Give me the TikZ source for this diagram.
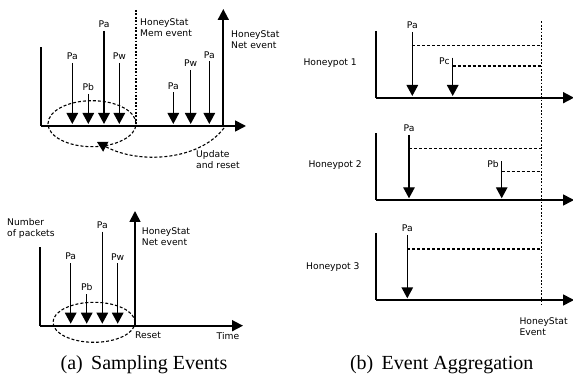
\documentclass[tikz,border=0pt]{standalone}
\usepackage{fontspec}
\setmainfont{Liberation Serif}
\newfontfamily\lblfont{DejaVu Sans}
\usetikzlibrary{arrows.meta,positioning,calc,shapes.geometric}

\begin{document}
\begin{tikzpicture}[x=1pt,y=-1pt,
	lbl/.style={font=\lblfont\fontsize{9.2}{11}\selectfont,inner sep=0pt,align=left},
	axis/.style={line width=1.7pt,-{Triangle[length=11pt,width=11pt]}},
	yaxis/.style={line width=1.7pt},
	pkt/.style={line width=1.4pt,-{Triangle[length=11pt,width=11.5pt]}},
	hold/.style={line width=1.1pt,dash pattern=on 3pt off 2pt},
	evline/.style={line width=1.3pt,dash pattern=on 1.8pt off 1.6pt},
	captext/.style={font=\fontsize{20}{24}\selectfont,inner sep=0pt,anchor=base}]
	\useasboundingbox (0,0) rectangle (573,374);
	
	% (a) top: sampling with memory event
	\coordinate (ta0) at (41,126);
	\coordinate (ta1) at (41,47.5);
	\coordinate (ta2) at (246,126);
	\draw[yaxis] (ta1) -- (ta0);
	\draw[axis] (ta0) -- (ta2);
	\draw[pkt] (72.3,63) coordinate (p1) -- (72.3,124);
	\draw[pkt] (88.3,94) coordinate (p2) -- (88.3,124);
	\draw[pkt] (104,31) coordinate (p3) -- (104,124);
	\draw[pkt] (119.3,63) coordinate (p4) -- (119.3,124);
	\draw[pkt] (173.3,92.5) coordinate (p5) -- (173.3,124);
	\draw[pkt] (190.7,70) coordinate (p6) -- (190.7,124);
	\draw[pkt] (209.3,61.5) coordinate (p7) -- (209.3,124);
	\node[lbl,above=3pt of p1] {Pa};
	\node[lbl,above=3pt of p2] {Pb};
	\node[lbl,above=3pt of p3] {Pa};
	\node[lbl,above=3pt of p4] {Pw};
	\node[lbl,above=3pt of p5] {Pa};
	\node[lbl,above=3pt of p6] {Pw};
	\node[lbl,above=3pt of p7] {Pa};
	\coordinate (mem) at (136,10);
	\draw[evline] (mem) -- (136,126);
	\node[lbl,anchor=north west] (memtxt) at (140,18.5) {HoneyStat\\Mem event};
	\coordinate (net) at (223.3,126);
	\draw[axis] (net) -- (223.3,9);
	\node[lbl,anchor=north west] (nettxt) at (231,30.5) {HoneyStat\\Net event};
	\node[hold,draw,ellipse,minimum width=88pt,minimum height=46pt] (win) at (92,123.7) {};
	\draw[hold,-{Triangle[length=10pt,width=11pt]}] (224,128)
		.. controls (200,160) and (140,165) .. (97,142);
	\node[lbl,anchor=north west] (upd) at (196,150.5) {Update\\and reset};
	
	% (a) bottom: sampling with net event
	\coordinate (ba0) at (40,325.7);
	\coordinate (ba1) at (40,247.5);
	\coordinate (ba2) at (243,325.7);
	\draw[yaxis] (ba1) -- (ba0);
	\draw[axis] (ba0) -- (ba2);
	\node[lbl,anchor=north west] (npk) at (7,218.5) {Number\\of packets};
	\draw[pkt] (70.7,263.3) coordinate (q1) -- (70.7,323.7);
	\draw[pkt] (86.7,294.3) coordinate (q2) -- (86.7,323.7);
	\draw[pkt] (102.3,231.7) coordinate (q3) -- (102.3,323.7);
	\draw[pkt] (117.7,263.3) coordinate (q4) -- (117.7,323.7);
	\node[lbl,above=3pt of q1] {Pa};
	\node[lbl,above=3pt of q2] {Pb};
	\node[lbl,above=3pt of q3] {Pa};
	\node[lbl,above=3pt of q4] {Pw};
	\coordinate (bnet) at (135,325.7);
	\draw[axis] (bnet) -- (135,211);
	\node[lbl,anchor=north west] (bnettxt) at (141.7,227.5) {HoneyStat\\Net event};
	\node[hold,draw,ellipse,minimum width=82pt,minimum height=40pt] (bwin) at (94,322.3) {};
	\node[lbl,anchor=north west] (rst) at (135,332) {Reset};
	\node[lbl,anchor=north west] (tim) at (216.5,332) {Time};
	\node[captext] (capa) at (144,369) {(a)\, Sampling Events};
	
	% (b) event aggregation over three honeypots
	\foreach \i/\yo/\yt in {1/97.7/31, 2/200/133.3, 3/300/233.3}{
		\coordinate (h\i a) at (375.7,\yt);
		\coordinate (h\i b) at (375.7,\yo);
		\coordinate (h\i c) at (574,\yo);
		\draw[yaxis] (h\i a) -- (h\i b);
		\draw[axis] (h\i b) -- (h\i c);
	}
	\node[lbl,anchor=west] (hp1) at (303.3,63.3) {Honeypot 1};
	\node[lbl,anchor=west] (hp2) at (308.3,165) {Honeypot 2};
	\node[lbl,anchor=west] (hp3) at (306,267.3) {Honeypot 3};
	\coordinate (agg) at (541.7,21.5);
	\coordinate (aggb) at (541.7,306);
	\draw[evline] (agg) -- (aggb);
	% packets and their holding times
	\draw[pkt] (412.3,32) coordinate (r1) -- (412.3,96);
	\draw[hold] (412.3,45.7) -- (541,45.7);
	\node[lbl,above=3pt of r1] {Pa};
	\draw[pkt] (452.7,57.7) coordinate (r2) -- (452.7,96);
	\draw[hold] (452.7,66) -- (541,66);
	\node[lbl,anchor=east] at (450,61.5) {Pc};
	\draw[pkt] (409,135) coordinate (r3) -- (409,198.3);
	\draw[hold] (409,148.3) -- (541,148.3);
	\node[lbl,above=3pt of r3] {Pa};
	\draw[pkt] (501.7,161.3) coordinate (r4) -- (501.7,198.3);
	\draw[hold] (501.7,171.7) -- (541,171.7);
	\node[lbl,anchor=east] at (499,164.5) {Pb};
	\draw[pkt] (407.3,235) coordinate (r5) -- (407.3,298.3);
	\draw[hold] (407.3,249) -- (541,249);
	\node[lbl,above=3pt of r5] {Pa};
	\node[lbl,anchor=north west] (evt) at (519.3,317.5) {HoneyStat\\Event};
	\node[captext] (capb) at (441.7,369) {(b)\, Event Aggregation};
\end{tikzpicture}
\end{document}
